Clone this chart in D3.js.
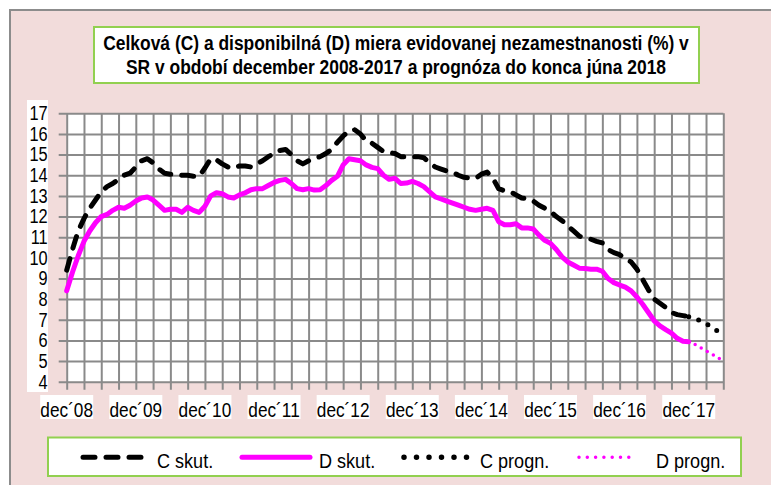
<!DOCTYPE html>
<html><head><meta charset="utf-8">
<script src="https://cdn.jsdelivr.net/npm/d3@7"></script>
<style>
html,body{margin:0;padding:0;background:#fff;}
svg{display:block;}
text{font-family:'Liberation Sans Narrow','Arial Narrow','Liberation Sans',Arial,sans-serif;fill:#000;}
</style></head><body>
<svg id="chart" width="771" height="485"></svg>
<script>
const titleLines = [
  "Celková (C) a disponibilná (D) miera evidovanej nezamestnanosti (%) v",
  "SR v období december 2008-2017 a prognóza do konca júna 2018"
];
const yTicks = [4,5,6,7,8,9,10,11,12,13,14,15,16,17];
const xTickLabels = ["dec´08","dec´09","dec´10","dec´11","dec´12","dec´13","dec´14","dec´15","dec´16","dec´17"];
// monthly, Dec 2008 .. Dec 2017
const cSkut = [9.4,10.4,11.3,11.9,12.4,12.8,13.2,13.45,13.6,13.8,14.0,14.1,
  14.4,14.7,14.8,14.6,14.3,14.1,14.05,14.05,14.0,14.0,13.95,13.95,
  14.35,14.8,14.75,14.55,14.4,14.35,14.45,14.45,14.4,14.55,14.7,14.9,
  15.05,15.2,15.25,15.0,14.7,14.55,14.7,14.82,14.9,15.05,15.25,15.6,
  15.9,16.15,16.2,16.0,15.65,15.55,15.35,15.15,15.1,15.05,14.9,14.9,
  14.9,14.9,14.85,14.6,14.4,14.3,14.2,14.15,14.0,13.9,13.87,13.85,
  14.05,14.15,13.85,13.35,13.25,13.2,13.05,12.9,12.85,12.75,12.55,12.4,
  12.25,12.0,11.8,11.55,11.3,11.05,10.95,10.9,10.8,10.72,10.4,10.25,
  10.15,9.95,9.8,9.45,8.95,8.45,8.0,7.8,7.6,7.35,7.25,7.2,7.15];
const dSkut = [8.4,9.3,10.1,10.8,11.3,11.7,12.0,12.1,12.3,12.45,12.4,12.55,
  12.75,12.9,12.95,12.8,12.55,12.3,12.35,12.35,12.2,12.45,12.3,12.2,
  12.5,13.0,13.15,13.1,12.95,12.9,13.05,13.15,13.3,13.35,13.35,13.5,
  13.65,13.75,13.8,13.6,13.35,13.3,13.35,13.28,13.3,13.5,13.75,13.95,
  14.5,14.8,14.75,14.7,14.5,14.38,14.32,14.0,13.8,13.85,13.6,13.62,
  13.7,13.6,13.45,13.2,12.95,12.85,12.75,12.65,12.55,12.45,12.35,12.3,
  12.35,12.4,12.3,11.75,11.6,11.6,11.65,11.45,11.45,11.4,11.1,10.85,
  10.7,10.4,10.05,9.8,9.65,9.5,9.48,9.45,9.45,9.35,9.0,8.8,
  8.68,8.58,8.4,8.1,7.75,7.35,6.95,6.7,6.52,6.35,6.1,5.96,5.94];
// forecast Dec 2017 .. Jun 2018
const cProgn = [7.15,7.08,6.95,6.82,6.62,6.45,6.3];
const dProgn = [5.94,5.82,5.66,5.5,5.34,5.17,5.0];
const legendLabels = ["C skut.","D skut.","C progn.","D progn."];

const svg = d3.select("#chart");
const L = 66.7, R = 723.3, T = 113.3, B = 381.7;
const x = d3.scaleLinear().domain([0, 114]).range([L, R]);
const y = d3.scaleLinear().domain([4, 17]).range([B, T]);

// condensed look (no narrow face installed)
const NARROW = 0.82;
function narrow(sel, f) {
  sel.each(function(){
    const w = this.getComputedTextLength();
    this.setAttribute("textLength", (w * (f || NARROW)).toFixed(2));
    this.setAttribute("lengthAdjust", "spacingAndGlyphs");
  });
}
function narrowAt(sel, px, py, f) {
  sel.attr("x", 0).attr("y", 0)
     .attr("transform", `translate(${px},${py}) scale(${f || NARROW},1)`);
}

// outer chart area
svg.append("rect").attr("x",10).attr("y",10).attr("width",800).attr("height",500)
  .attr("fill","#f2dcdb").attr("stroke","#8c8c8c").attr("stroke-width",2);

// title
svg.append("rect").attr("x",94).attr("y",27).attr("width",605).attr("height",56)
  .attr("fill","#fff").attr("stroke","#92d050").attr("stroke-width",2);
titleLines.forEach((t,i)=>{
  svg.append("text").attr("text-anchor","middle")
    .attr("font-size",21).attr("font-weight","bold").text(t)
    .call(narrowAt, 396, 49.5+i*24, 0.83);
});

// plot area
svg.append("rect").attr("x",L).attr("y",T).attr("width",R-L).attr("height",B-T).attr("fill","#fff");
// y label strip
svg.append("rect").attr("x",27).attr("y",100).attr("width",21).attr("height",292).attr("fill","#fff");

const gridColor = "#8a8a8a";
const gx = svg.append("g").attr("transform",`translate(0,${B+8})`)
  .call(d3.axisBottom(x).tickValues(d3.range(0,115,3)).tickSize(-(B+8-T)).tickFormat(""));
gx.select(".domain").remove();
gx.selectAll("line").attr("stroke",gridColor).attr("stroke-width",2);

const gy = svg.append("g").attr("transform",`translate(${L-8},0)`)
  .call(d3.axisLeft(y).tickValues(yTicks).tickSize(-(R-L+8)).tickPadding(11));
gy.select(".domain").remove();
gy.selectAll("line").attr("stroke",gridColor).attr("stroke-width",2);
gy.selectAll("text").attr("font-size",20).attr("font-family",null).attr("fill","#000")
  .call(narrow);

// x labels with white boxes
const xl = svg.append("g").selectAll("g").data(xTickLabels).join("g")
  .attr("transform",(d,i)=>`translate(${x(i*12)},0)`);
xl.append("rect").attr("x",-26.5).attr("y",395).attr("width",53).attr("height",24).attr("fill","#fff");
xl.append("text").attr("y",417).attr("text-anchor","middle").attr("font-size",21).text(d=>d)
  .call(narrow);

// series
const line = d3.line().x(d=>x(d[0])).y(d=>y(d[1])).curve(d3.curveLinear);
const cS = cSkut.map((v,i)=>[i,v]);
const dS = dSkut.map((v,i)=>[i,v]);
const cP = cProgn.map((v,i)=>[108+i,v]);
const dP = dProgn.map((v,i)=>[108+i,v]);

const styles = [
  {stroke:"#000", w:5, dash:"12,11"},
  {stroke:"#ff00ff", w:5, dash:null},
  {stroke:"#000", w:5, dash:"0,10.5"},
  {stroke:"#ff00ff", w:3.5, dash:"0,7"}
];
const series = [cS, dS, cP, dP];
const drawOrder = [2,3,0,1];
drawOrder.forEach(k=>{
  const st = styles[k];
  svg.append("path").attr("d",line(series[k])).attr("fill","none")
    .attr("stroke",st.stroke).attr("stroke-width",st.w)
    .attr("stroke-linecap","round").attr("stroke-linejoin","round")
    .attr("stroke-dasharray",st.dash);
});

// legend
svg.append("rect").attr("x",48).attr("y",437.5).attr("width",693).attr("height",38.5)
  .attr("fill","#fff").attr("stroke","#92d050").attr("stroke-width",2);
const legItems = [
  {x1:83,x2:143,tx:157},
  {x1:242,x2:310,tx:319},
  {x1:404,x2:468,tx:480},
  {x1:579,x2:637,tx:656}
];
legItems.forEach((it,k)=>{
  const st = styles[k];
  svg.append("line").attr("x1",it.x1).attr("x2",it.x2).attr("y1",457.3).attr("y2",457.3)
    .attr("stroke",st.stroke).attr("stroke-width",st.w+ (k===2?0.5:0))
    .attr("stroke-linecap","round").attr("stroke-dasharray",
      k===0?"12,11": k===2?"0,12.5": k===3?"0,8.3": null);
  svg.append("text").attr("x",it.tx).attr("y",468).attr("font-size",21).text(legendLabels[k])
    .call(narrow, 0.86);
});
</script>
</body></html>
